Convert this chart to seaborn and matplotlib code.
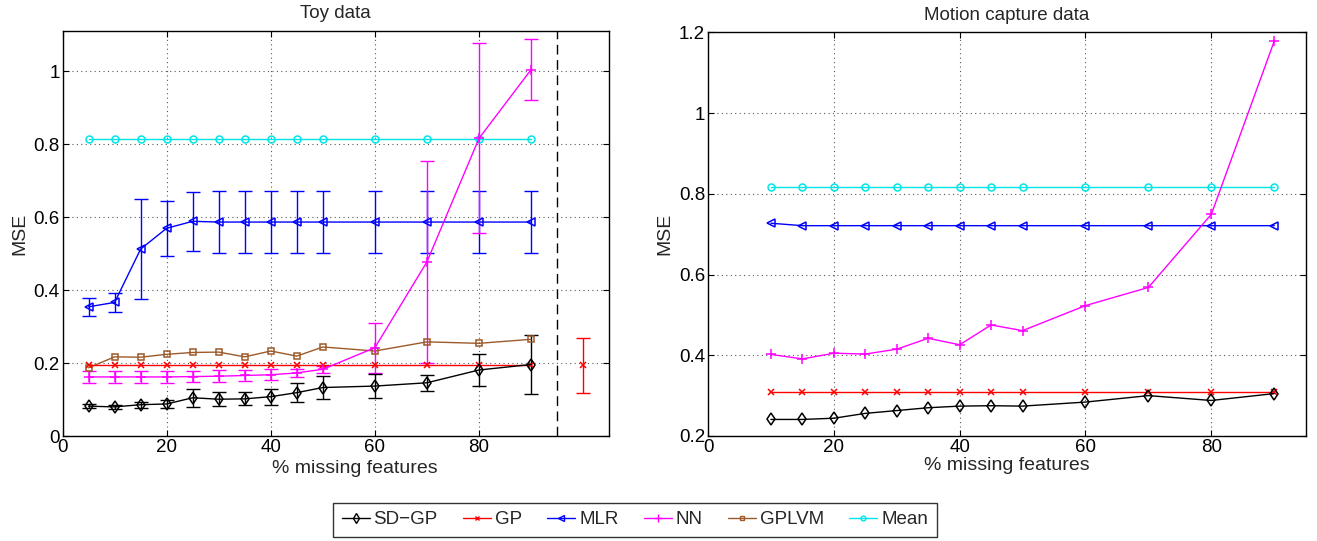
import numpy as np
import pandas as pd
import matplotlib
matplotlib.use("Agg")
import matplotlib.pyplot as plt
import seaborn as sns
from matplotlib.lines import Line2D

# ---- toy data (left panel) ----
toy_x = [5, 10, 15, 20, 25, 30, 35, 40, 45, 50, 60, 70, 80, 90]
toy_sdgp = [0.083, 0.081, 0.087, 0.089, 0.106, 0.102, 0.103, 0.109, 0.120, 0.134, 0.138, 0.147, 0.182, 0.197]
toy_sdgp_err = [0.006, 0.006, 0.008, 0.012, 0.024, 0.019, 0.018, 0.022, 0.026, 0.031, 0.032, 0.022, 0.043, 0.082]
toy_gp = [0.196, 0.196, 0.196, 0.196, 0.196, 0.196, 0.196, 0.196, 0.196, 0.196, 0.196, 0.196, 0.196, 0.196]
toy_mlr = [0.355, 0.367, 0.513, 0.570, 0.589, 0.587, 0.587, 0.587, 0.587, 0.587, 0.587, 0.587, 0.587, 0.587]
toy_mlr_err = [0.025, 0.026, 0.137, 0.075, 0.081, 0.085, 0.085, 0.085, 0.085, 0.085, 0.085, 0.085, 0.085, 0.085]
toy_nn = [0.163, 0.163, 0.163, 0.163, 0.164, 0.165, 0.167, 0.169, 0.174, 0.184, 0.243, 0.478, 0.816, 1.004]
toy_nn_err = [0.016, 0.016, 0.016, 0.016, 0.016, 0.016, 0.015, 0.015, 0.012, 0.009, 0.069, 0.277, 0.260, 0.083]
toy_gplvm = [0.188, 0.218, 0.217, 0.225, 0.230, 0.231, 0.218, 0.234, 0.220, 0.245, 0.234, 0.259, 0.255, 0.266]
toy_mean = [0.815, 0.815, 0.815, 0.815, 0.815, 0.815, 0.815, 0.815, 0.815, 0.815, 0.815, 0.815, 0.815, 0.815]
# full-data GP reference (right of dashed line)
ref_x = [100]
ref_gp = [0.195]
ref_gp_err = [0.075]

# ---- motion capture data (right panel) ----
mocap_x = [10, 15, 20, 25, 30, 35, 40, 45, 50, 60, 70, 80, 90]
mocap_sdgp = [0.241, 0.241, 0.244, 0.256, 0.263, 0.270, 0.274, 0.275, 0.274, 0.284, 0.300, 0.288, 0.305]
mocap_gp = [0.309, 0.309, 0.309, 0.309, 0.309, 0.309, 0.309, 0.309, 0.309, 0.309, 0.309, 0.309, 0.309]
mocap_mlr = [0.727, 0.721, 0.721, 0.721, 0.721, 0.721, 0.721, 0.721, 0.721, 0.721, 0.721, 0.721, 0.721]
mocap_nn = [0.402, 0.391, 0.405, 0.403, 0.415, 0.442, 0.426, 0.475, 0.461, 0.523, 0.568, 0.749, 1.178]
mocap_mean = [0.816, 0.816, 0.816, 0.816, 0.816, 0.816, 0.816, 0.816, 0.816, 0.816, 0.816, 0.816, 0.816]

method_names = ["SD\u2212GP", "GP", "MLR", "NN", "GPLVM", "Mean"]
colors = ["black", "#FF0000", "#0000FF", "#FF00FF", "#9C5A2A", "#00E5E5"]
markers = ["d", "x", "<", "+", "s", "o"]
msizes = [6.5, 4.5, 6, 7, 5, 5]

sns.set_theme(style="white", rc={
    "xtick.direction": "in", "ytick.direction": "in",
    "xtick.top": True, "ytick.right": True,
    "xtick.bottom": True, "ytick.left": True,
    "axes.edgecolor": "black", "axes.linewidth": 1.0,
    "xtick.color": "black", "ytick.color": "black",
})
plt.rcParams["font.family"] = ["Liberation Sans", "DejaVu Sans"]
FS = 13.5

fig = plt.figure(figsize=(13.17, 5.41), dpi=100)
ax1 = fig.add_axes([0.0475, 0.1932, 0.415, 0.7495])
ax2 = fig.add_axes([0.5376, 0.1941, 0.4538, 0.7462])


def draw_line(ax, x, y, i, err=None):
    c = colors[i]
    if err is not None:
        ax.errorbar(x, y, yerr=err, fmt="none", ecolor=c, elinewidth=1.0,
                    capsize=5, capthick=1.0, zorder=2)
    sns.lineplot(x=x, y=y, ax=ax, color=c, marker=markers[i], markersize=msizes[i],
                 markerfacecolor="none", markeredgecolor=c, markeredgewidth=1.1,
                 linewidth=1.0, estimator=None, sort=False, legend=False, zorder=3)


# left panel
draw_line(ax1, toy_x, toy_mean, 5)
draw_line(ax1, toy_x, toy_mlr, 2, toy_mlr_err)
draw_line(ax1, toy_x, toy_gplvm, 4)
draw_line(ax1, toy_x, toy_gp, 1)
draw_line(ax1, toy_x, toy_nn, 3, toy_nn_err)
draw_line(ax1, toy_x, toy_sdgp, 0, toy_sdgp_err)
draw_line(ax1, ref_x, ref_gp, 1, ref_gp_err)
ax1.axvline(95, color="black", linestyle=(0, (7, 4)), linewidth=1.0)

ax1.set_xlim(0, 105)
ax1.set_ylim(0, 1.11)
ax1.set_xticks([0, 20, 40, 60, 80])
ax1.set_yticks([0, 0.2, 0.4, 0.6, 0.8, 1.0])
ax1.set_yticklabels(["0", "0.2", "0.4", "0.6", "0.8", "1"])
ax1.set_title("Toy data", fontsize=FS, pad=9)

# right panel
draw_line(ax2, mocap_x, mocap_mean, 5)
draw_line(ax2, mocap_x, mocap_mlr, 2)
draw_line(ax2, mocap_x, mocap_nn, 3)
draw_line(ax2, mocap_x, mocap_gp, 1)
draw_line(ax2, mocap_x, mocap_sdgp, 0)

ax2.set_xlim(0, 95)
ax2.set_ylim(0.2, 1.2)
ax2.set_xticks([0, 20, 40, 60, 80])
ax2.set_yticks([0.2, 0.4, 0.6, 0.8, 1.0, 1.2])
ax2.set_yticklabels(["0.2", "0.4", "0.6", "0.8", "1", "1.2"])
ax2.set_title("Motion capture data", fontsize=FS, pad=9)

for ax in (ax1, ax2):
    ax.grid(True, linestyle=(0, (1, 3)), color="0.35", linewidth=0.8)
    ax.set_axisbelow(True)
    ax.tick_params(labelsize=FS, length=4, width=0.8, pad=2)
    ax.set_xlabel("% missing features", fontsize=14, labelpad=1)
    ax.set_ylabel("MSE", fontsize=14, labelpad=4)
    for s in ax.spines.values():
        s.set_visible(True)
        s.set_color("black")

# left x label sits a bit right of the axes centre in the original
ax1.xaxis.set_label_coords(0.535, -0.058)

handles = [Line2D([], [], color=colors[i], marker=markers[i], markersize=msizes[i] - 1.5,
                  markerfacecolor="none", markeredgecolor=colors[i], linewidth=1.0)
           for i in range(len(method_names))]
leg = fig.legend(handles, method_names, loc="center", bbox_to_anchor=(0.482, 0.039),
                 ncol=6, fontsize=FS, frameon=True, fancybox=False, edgecolor="black",
                 handlelength=1.5, handletextpad=0.2, columnspacing=1.35,
                 borderpad=0.45)
leg.get_frame().set_linewidth(1.0)

fig.savefig("out.png", dpi=100)
